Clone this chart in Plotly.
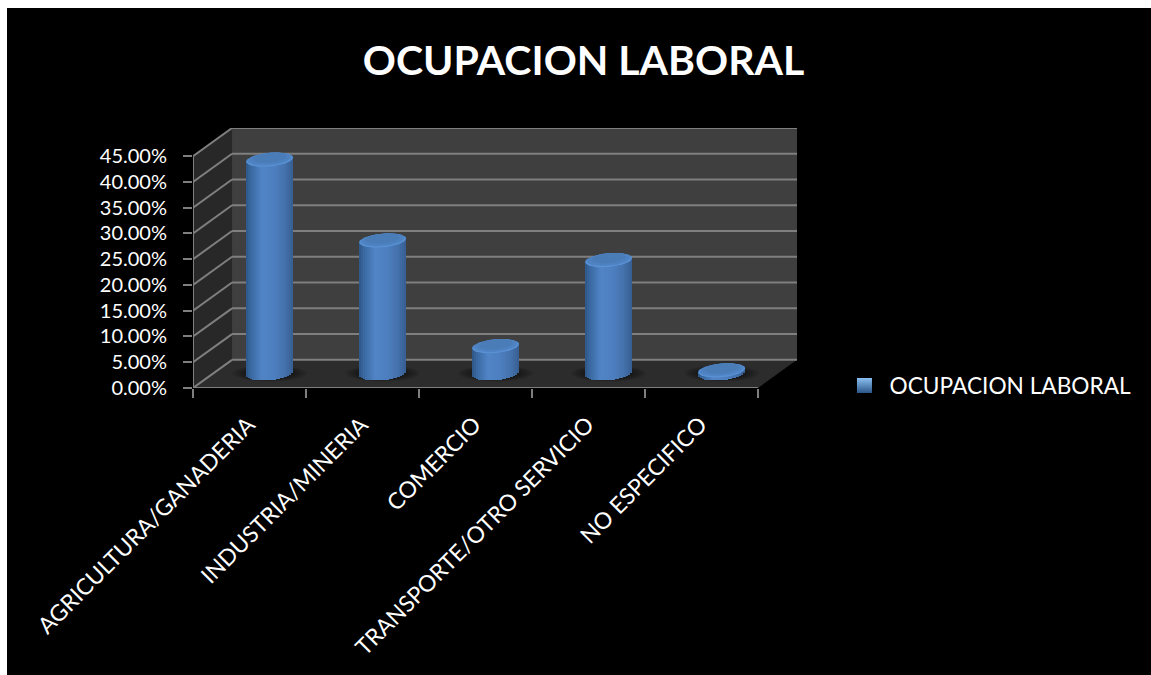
import numpy as np
import plotly.graph_objects as go

categories = ["AGRICULTURA/GANADERIA", "INDUSTRIA/MINERIA", "COMERCIO",
              "TRANSPORTE/OTRO SERVICIO", "NO ESPECIFICO"]
values = [41.5, 25.8, 5.3, 22.0, 0.6]
y_ticks = [0, 5, 10, 15, 20, 25, 30, 35, 40, 45]
x_ticks = [0, 1, 2, 3, 4, 5]
series_name = "OCUPACION LABORAL"
title_text = "OCUPACION LABORAL"

FONT = "Lato, Carlito, Calibri, sans-serif"
W, H = 1144, 667
PX_L, PX_R, PX_T, PX_B = 186, 790.5, 119.5, 380.3      # plot box in figure pixels
SX, SY = 112.9, 5.178                                  # pixels per unit
DX, DY = 39 / SX, 28.3 / SY                            # 3-D depth of the box
X_MAX, Y_MAX = 5 + DX, 45 + DY
GRID = "#7f7f7f"

# cylinder geometry, in axis units
OFFSET = 0.678
A = 23.6 / SX
B = 6.8 / SY
SHEAR = 2.0 / SY
BASE = 2.85

centers = np.arange(len(categories)) + OFFSET


def lerp_color(u):
    stops = [(-1.0, (46, 86, 134)), (-0.8, (58, 104, 160)), (-0.35, (80, 132, 198)),
             (0.15, (78, 128, 193)), (0.65, (68, 114, 172)), (1.0, (54, 94, 146))]
    for (u0, c0), (u1, c1) in zip(stops, stops[1:]):
        if u <= u1:
            t = (u - u0) / (u1 - u0)
            return "rgb(%d,%d,%d)" % tuple(round(a + (b - a) * t) for a, b in zip(c0, c1))
    return "rgb(54,94,146)"


def ellipse(cx, cy, scale=1.0, dy=0.0):
    t = np.linspace(0, 2 * np.pi, 60)
    xs = cx + A * scale * np.cos(t)
    ys = cy + dy + B * scale * np.sin(t) + SHEAR * scale * np.cos(t)
    return list(xs) + [None], list(ys) + [None]


shapes = [
    dict(type="path", layer="below", line_width=0, fillcolor="#282828",
         path=f"M0,0 L{DX},{DY} L{DX},{45+DY} L0,45 Z"),
    dict(type="path", layer="below", line_width=0, fillcolor="#3f3f3f",
         path=f"M{DX},{DY} L{X_MAX},{DY} L{X_MAX},{Y_MAX} L{DX},{Y_MAX} Z"),
    dict(type="path", layer="below", line_width=0, fillcolor="#2c2c2c",
         path=f"M0,0 L5,0 L{X_MAX},{DY} L{DX},{DY} Z"),
]
for v in y_ticks:
    shapes.append(dict(type="line", layer="below", x0=DX, x1=X_MAX, y0=v + DY, y1=v + DY,
                       line=dict(color=GRID, width=2)))
# soft floor shadows
for c in centers:
    for k in np.linspace(1, 0.45, 7):
        shapes.append(dict(type="circle", layer="below", line_width=0,
                           fillcolor="rgba(0,0,0,0.11)",
                           x0=c - 37 * k / SX, x1=c + 37 * k / SX,
                           y0=BASE - 8 * k / SY, y1=BASE + 8 * k / SY))

fig = go.Figure()

# cylinder bodies: thin strips of one bar series, shaded across the width
N = 24
us = (np.arange(N) + 0.5) / N * 2 - 1
bx, bw, bb, by, bc = [], [], [], [], []
for c, v in zip(centers, values):
    for u in us:
        low = BASE + SHEAR * u - B * np.sqrt(1 - u * u)
        high = BASE + v + SHEAR * u
        bx.append(c + A * u)
        bw.append(2 * A / N * 1.15)
        bb.append(low)
        by.append(high - low)
        bc.append(lerp_color(u))
fig.add_trace(go.Bar(x=bx, y=by, base=bb, width=bw, showlegend=False, hoverinfo="skip",
                     marker=dict(color=bc, line=dict(width=0))))

# box edges that sit on the plot border
ex, ey = [0, 5, None, 0, 0, None], [0, 0, None, 0, 45, None]
for v in y_ticks:
    ex += [0, DX, None]
    ey += [v, v + DY, None]
fig.add_trace(go.Scatter(x=ex, y=ey, mode="lines", cliponaxis=False, showlegend=False,
                         hoverinfo="skip", line=dict(color=GRID, width=2)))

# cylinder tops
for color, scale, dy in [("#5089cb", 1.0, 0.0), ("#5a92d4", 0.96, -0.10),
                         ("#5086c7", 0.93, 0.08), ("#4d81bf", 0.86, 0.2),
                         ("#4a7cb8", 0.72, 0.34)]:
    tx, ty = [], []
    for c, v in zip(centers, values):
        xs, ys = ellipse(c, BASE + v, scale, dy)
        tx += xs
        ty += ys
    fig.add_trace(go.Scatter(x=tx, y=ty, mode="lines", fill="toself", fillcolor=color,
                             line=dict(width=0), showlegend=False, hoverinfo="skip"))

# carrier of the rotated category labels
label_pos = np.arange(len(categories)) + 0.49
fig.add_trace(go.Scatter(x=label_pos, y=values, xaxis="x2", mode="none",
                         showlegend=False, hoverinfo="skip"))

# legend entry
fig.add_trace(go.Scatter(x=[None], y=[None], mode="markers", name=series_name,
                         marker=dict(symbol="square", size=15, color="#8cc0f2",
                                     gradient=dict(type="vertical", color="#2c5688"),
                                     line=dict(width=0))))

fig.update_layout(
    width=W, height=H, autosize=False,
    paper_bgcolor="black", plot_bgcolor="rgba(0,0,0,0)",
    margin=dict(l=PX_L, r=W - PX_R, t=PX_T, b=H - PX_B, pad=0, autoexpand=False),
    barmode="overlay", bargap=0,
    font=dict(family=FONT, color="white", size=22),
    title=dict(text=f"<b>{title_text}</b>", x=0.504, xanchor="center", y=1 - 53 / H,
               yanchor="middle", font=dict(size=41, family=FONT, color="white")),
    xaxis=dict(range=[0, X_MAX], tickmode="array", tickvals=x_ticks, showticklabels=False,
               ticks="outside", ticklen=9, tickwidth=2, tickcolor=GRID, showgrid=False,
               zeroline=False, showline=False),
    xaxis2=dict(range=[0, X_MAX], overlaying="x", side="bottom", anchor="y", tickmode="array",
                tickvals=list(label_pos), ticktext=categories,
                tickangle=-45, ticks="", showgrid=False, zeroline=False, showline=False,
                ticklabelstandoff=18, tickfont=dict(size=22.8, family=FONT, color="white")),
    yaxis=dict(range=[0, Y_MAX], tickmode="array", tickvals=y_ticks,
               ticktext=[f"{v:.2f}%" for v in y_ticks],
               ticks="outside", ticklen=9, tickwidth=2, tickcolor=GRID, showgrid=False,
               zeroline=False, showline=False, ticklabelstandoff=12,
               tickfont=dict(size=20, family=FONT, color="white")),
    shapes=shapes,
    showlegend=True,
    legend=dict(x=(840 - 7 - PX_L) / (PX_R - PX_L), xanchor="left",
                y=(PX_B - (386 - 8)) / (PX_B - PX_T), yanchor="middle",
                bgcolor="rgba(0,0,0,0)", font=dict(size=22.7, family=FONT, color="white"),
                itemsizing="trace", itemwidth=40, itemclick=False),
)

fig.write_html("out.html", config=dict(displayModeBar=False),
               post_script="document.body.style.margin='8px 0 0 7px';"
                           "document.documentElement.style.overflow='hidden';")
